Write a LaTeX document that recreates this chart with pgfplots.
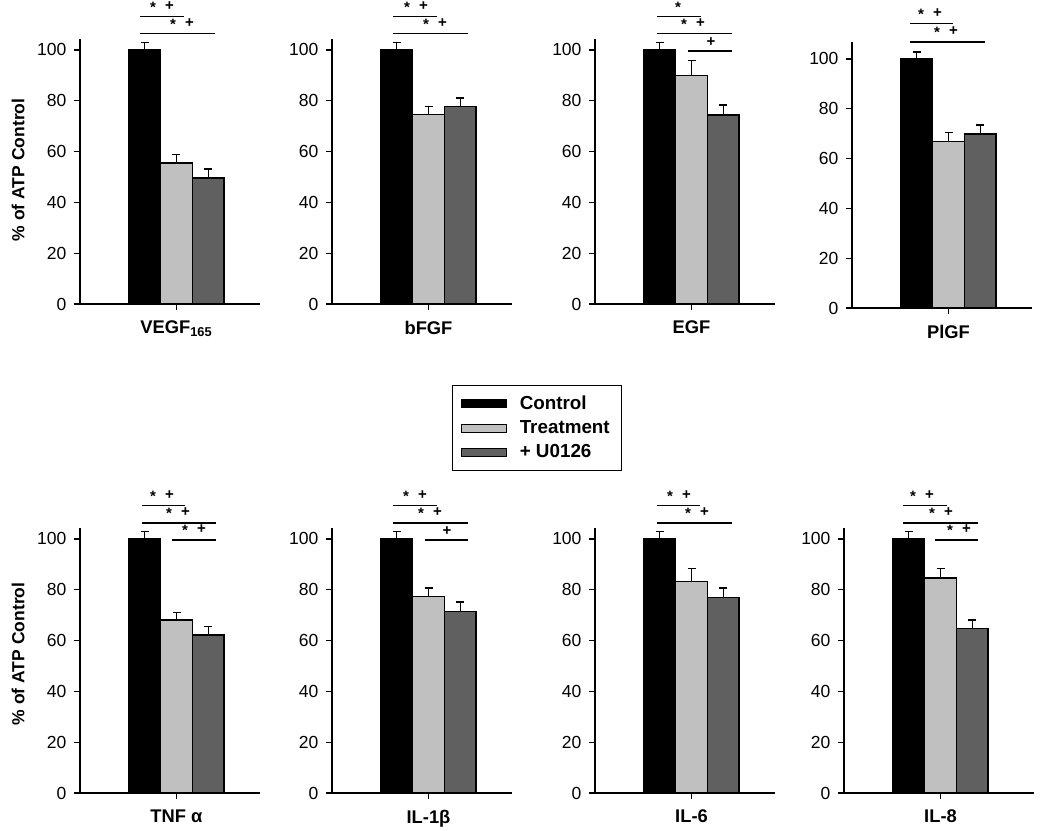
\documentclass[border=0pt]{standalone}
\usepackage{pgfplots}
\pgfplotsset{compat=1.18}
\usepackage{fontspec}
\setmainfont{Liberation Sans}
\definecolor{ctrl}{HTML}{000000}
\definecolor{treat}{HTML}{C0C0C0}
\definecolor{uzero}{HTML}{606060}
\newcommand{\st}{\raisebox{-1.6pt}{*}}
\newcommand{\gapsig}{\hspace{5.5pt}}
\pgfplotsset{
  panel/.style={
    scale only axis, width=108pt, height=159pt,
    anchor=south west,
    xmin=0, xmax=180, ymin=0, ymax=104.3,
    axis lines=left, axis line style={-, line width=0.8pt},
    ytick={0,20,40,60,80,100},
    xtick={96.5},
    tick align=outside, major tick length=3.6pt,
    tick style={black, line width=0.8pt},
    /pgf/number format/assume math mode=true,
    yticklabel style={font=\fontsize{10.5}{12}\selectfont, xshift=-1pt},
    xticklabel style={font=\fontsize{11}{13}\selectfont\bfseries, yshift=-3pt},
    ylabel style={font=\fontsize{10.5}{12}\selectfont\bfseries, anchor=center},
    clip=false,
  },
  barbase/.style={ybar, bar width=31.7, bar shift=0pt, draw=black, line width=0.75pt,
    /pgfplots/error bars/y dir=plus, /pgfplots/error bars/y explicit,
    /pgfplots/error bars/error bar style={line width=0.7pt, black},
    /pgfplots/error bars/error mark options={rotate=90, mark size=2.4pt, line width=0.7pt, black}},
  cbar/.style={barbase, fill=ctrl},
  tbar/.style={barbase, fill=treat},
  ubar/.style={barbase, fill=uzero},
}
\tikzset{brk/.style={line width=0.7pt, black},
  sig/.style={anchor=south, inner sep=0pt, yshift=2.2pt, font=\fontsize{9}{9}\selectfont\bfseries}}
\newcommand{\swatch}[1]{\draw[fill=#1,draw=black,line width=0.6pt] (0pt,-2.4pt) rectangle (27pt,2.4pt); \path[draw=none,fill=none] (33pt,0pt);}
\begin{document}
\begin{tikzpicture}
\useasboundingbox (0,0) rectangle (630pt,498.6pt);
% ---------------- top row ----------------
\begin{axis}[panel, at={(48pt,316.2pt)},
  xticklabels={VEGF\textsubscript{165}},
  ylabel={\% of ATP Control}, ylabel style={at={(rel axis cs:-0.344,0.506)}}]
\addplot[cbar] coordinates {(64.8,100) +- (0,2.8)};
\addplot[tbar] coordinates {(96.5,55.5) +- (0,3.5)};
\addplot[ubar] coordinates {(128.2,49.6) +- (0,3.5)};
\draw[brk] (axis cs:60,113) -- (axis cs:104,113);
\node[sig] at (axis cs:82,113) {\st\gapsig+};
\draw[brk] (axis cs:60,106.3) -- (axis cs:135,106.3);
\node[sig] at (axis cs:102,106.3) {\st\gapsig+};
\end{axis}

\begin{axis}[panel, at={(199.2pt,316.2pt)},
  xticklabels={bFGF},
  legend style={at={(1.139,-0.468)}, anchor=center, draw=black, line width=0.8pt,
    fill=white, font=\fontsize{11.3}{13}\selectfont\bfseries, inner xsep=5pt, inner ysep=4pt,
    row sep=1.2pt, cells={anchor=west}},
  legend cell align=left]
\addplot[cbar, legend image code/.code={\swatch{ctrl}}] coordinates {(64.8,100) +- (0,2.8)};
\addlegendentry{Control}
\addplot[tbar, legend image code/.code={\swatch{treat}}] coordinates {(96.5,74.5) +- (0,3.1)};
\addlegendentry{Treatment}
\addplot[ubar, legend image code/.code={\swatch{uzero}}] coordinates {(128.2,77.8) +- (0,3.3)};
\addlegendentry{+ U0126}
\draw[brk] (axis cs:61,113) -- (axis cs:105,113);
\node[sig] at (axis cs:84,113) {\st\gapsig+};
\draw[brk] (axis cs:61,106.3) -- (axis cs:136,106.3);
\node[sig] at (axis cs:103,106.3) {\st\gapsig+};
\end{axis}

\begin{axis}[panel, at={(357pt,316.2pt)},
  xticklabels={EGF}]
\addplot[cbar] coordinates {(64.8,100) +- (0,2.8)};
\addplot[tbar] coordinates {(96.5,90) +- (0,6)};
\addplot[ubar] coordinates {(128.2,74.4) +- (0,3.9)};
\draw[brk] (axis cs:62,113) -- (axis cs:106,113);
\node[sig] at (axis cs:83,113) {\st};
\draw[brk] (axis cs:62,106.3) -- (axis cs:137,106.3);
\node[sig] at (axis cs:98,106.3) {\st\gapsig+};
\draw[brk] (axis cs:93,99.6) -- (axis cs:137,99.6);
\node[sig] at (axis cs:116,99.6) {+};
\end{axis}

\begin{axis}[panel, at={(511.2pt,313.8pt)}, ymax=106.8, height=159.6pt,
  xticklabels={PlGF}]
\addplot[cbar] coordinates {(64.8,100) +- (0,2.8)};
\addplot[tbar] coordinates {(96.5,66.7) +- (0,3.6)};
\addplot[ubar] coordinates {(128.2,69.9) +- (0,3.6)};
\draw[brk] (axis cs:58,114.1) -- (axis cs:101,114.1);
\node[sig] at (axis cs:78,114.1) {\st\gapsig+};
\draw[brk] (axis cs:58,106.8) -- (axis cs:133,106.8);
\node[sig] at (axis cs:94,106.8) {\st\gapsig+};
\end{axis}

% ---------------- bottom row ----------------
\begin{axis}[panel, at={(48pt,22.8pt)},
  xticklabels={TNF α},
  ylabel={\% of ATP Control}, ylabel style={at={(rel axis cs:-0.344,0.525)}}]
\addplot[cbar] coordinates {(64.8,100) +- (0,2.8)};
\addplot[tbar] coordinates {(96.5,68.1) +- (0,2.8)};
\addplot[ubar] coordinates {(128.2,62.2) +- (0,3.2)};
\draw[brk] (axis cs:62,113) -- (axis cs:105,113);
\node[sig] at (axis cs:82,113) {\st\gapsig+};
\draw[brk] (axis cs:62,106.3) -- (axis cs:136,106.3);
\node[sig] at (axis cs:98,106.3) {\st\gapsig+};
\draw[brk] (axis cs:92,99.6) -- (axis cs:136,99.6);
\node[sig] at (axis cs:114,99.6) {\st\gapsig+};
\end{axis}

\begin{axis}[panel, at={(199.2pt,22.8pt)},
  xticklabels={IL-1β}]
\addplot[cbar] coordinates {(64.8,100) +- (0,2.8)};
\addplot[tbar] coordinates {(96.5,77.2) +- (0,3.5)};
\addplot[ubar] coordinates {(128.2,71.3) +- (0,3.9)};
\draw[brk] (axis cs:61,113) -- (axis cs:105,113);
\node[sig] at (axis cs:83,113) {\st\gapsig+};
\draw[brk] (axis cs:61,106.3) -- (axis cs:136,106.3);
\node[sig] at (axis cs:98,106.3) {\st\gapsig+};
\draw[brk] (axis cs:93,99.6) -- (axis cs:136,99.6);
\node[sig] at (axis cs:115,99.6) {+};
\end{axis}

\begin{axis}[panel, at={(357pt,22.8pt)},
  xticklabels={IL-6}]
\addplot[cbar] coordinates {(64.8,100) +- (0,2.8)};
\addplot[tbar] coordinates {(96.5,83.1) +- (0,5.1)};
\addplot[ubar] coordinates {(128.2,76.8) +- (0,3.9)};
\draw[brk] (axis cs:62,113) -- (axis cs:105,113);
\node[sig] at (axis cs:84,113) {\st\gapsig+};
\draw[brk] (axis cs:62,106.3) -- (axis cs:137,106.3);
\node[sig] at (axis cs:102,106.3) {\st\gapsig+};
\end{axis}

\begin{axis}[panel, at={(506.4pt,22.8pt)}, xmax=190, width=114pt,
  xticklabels={IL-8}]
\addplot[cbar] coordinates {(64.8,100) +- (0,2.8)};
\addplot[tbar] coordinates {(96.5,84.6) +- (0,3.6)};
\addplot[ubar] coordinates {(128.2,64.6) +- (0,3.5)};
\draw[brk] (axis cs:59,113) -- (axis cs:103,113);
\node[sig] at (axis cs:78,113) {\st\gapsig+};
\draw[brk] (axis cs:59,106.3) -- (axis cs:134,106.3);
\node[sig] at (axis cs:97,106.3) {\st\gapsig+};
\draw[brk] (axis cs:91,99.6) -- (axis cs:134,99.6);
\node[sig] at (axis cs:115,99.6) {\st\gapsig+};
\end{axis}
\end{tikzpicture}
\end{document}
